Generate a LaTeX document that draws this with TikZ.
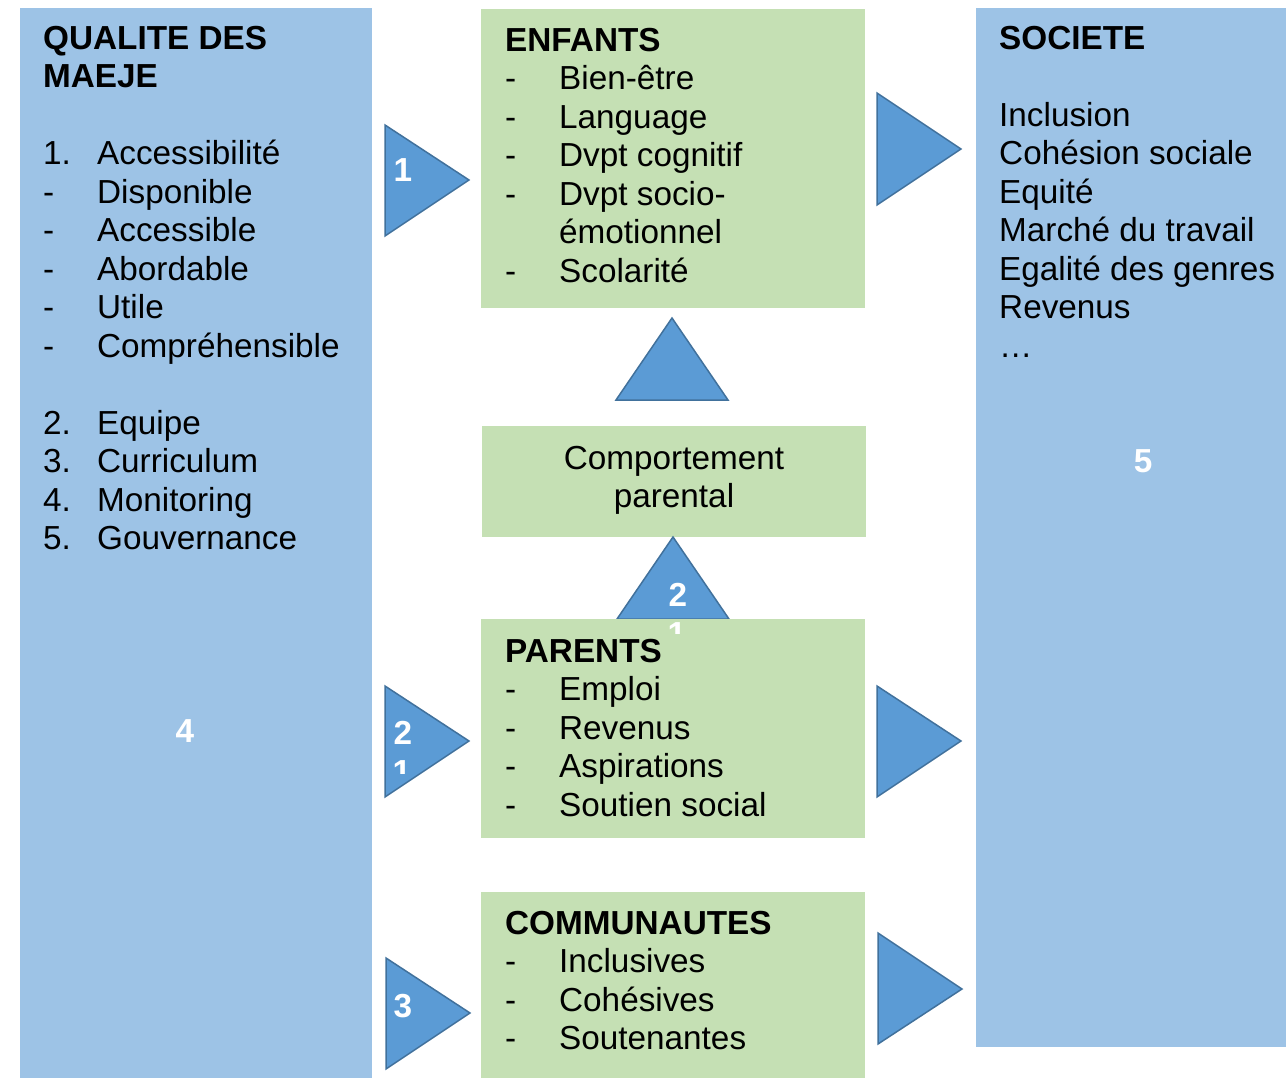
\documentclass[tikz,border=0pt]{standalone}
\usepackage{fontspec}
\setmainfont{Liberation Sans}

\definecolor{boxblue}{HTML}{9DC3E6}
\definecolor{boxgreen}{HTML}{C5E0B4}
\definecolor{triblue}{HTML}{5B9BD5}
\definecolor{triedge}{HTML}{41719C}

\newcommand{\dsh}{\makebox[54pt][l]{-}}
\newcommand{\numitem}[1]{\makebox[54pt][l]{#1}}

\tikzset{
  bluebox/.style={fill=boxblue},
  greenbox/.style={fill=boxgreen},
  arrowtri/.style={fill=triblue,draw=triedge,line width=1.5pt,line join=miter},
  boxtext/.style={anchor=north west,inner sep=0pt,align=left,font=\fontsize{33.3}{38.5}\selectfont},
  numtext/.style={text=white,inner sep=0pt,font=\fontsize{33.3}{38.5}\selectfont\bfseries}
}

\begin{document}
\begin{tikzpicture}[x=1pt,y=-1pt]
  \useasboundingbox (0,0) rectangle (1286,1078);
  % boxes
  \fill[bluebox] (20,8) rectangle (372,1078);
  \fill[bluebox] (976,8) rectangle (1286,1047);
  \fill[greenbox] (481,9) rectangle (865,308);
  \fill[greenbox] (482,426) rectangle (866,537);
  \fill[greenbox] (481,619) rectangle (865,838);
  \fill[greenbox] (481,892) rectangle (865,1078);
  % triangles
  \draw[arrowtri] (385,125) -- (469,180) -- (385,236) -- cycle;
  \draw[arrowtri] (385,686) -- (469,741) -- (385,797) -- cycle;
  \draw[arrowtri] (386,958) -- (470,1013) -- (386,1069) -- cycle;
  \draw[arrowtri] (877,93) -- (961,149) -- (877,205) -- cycle;
  \draw[arrowtri] (877,686) -- (961,741) -- (877,797) -- cycle;
  \draw[arrowtri] (878,933) -- (962,989) -- (878,1044) -- cycle;
  \draw[arrowtri] (616,400) -- (672,318) -- (728,400) -- cycle;
  \draw[arrowtri] (617,619) -- (673,537) -- (729,619) -- cycle;
  \fill[greenbox] (481,619) rectangle (865,621);

  \node[boxtext] (quality) at (43,22) {\strut\textbf{QUALITE DES}\\\textbf{MAEJE}\\[38.5pt]
    \numitem{1.}Accessibilité\\\dsh Disponible\\\dsh Accessible\\\dsh Abordable\\\dsh Utile\\\dsh Compréhensible\\[38.5pt]
    \numitem{2.}Equipe\\\numitem{3.}Curriculum\\\numitem{4.}Monitoring\\\numitem{5.}Gouvernance};
  \node[boxtext] (children) at (505,24) {\strut\textbf{ENFANTS}\\\dsh Bien-être\\\dsh Language\\\dsh Dvpt cognitif\\
    \dsh Dvpt socio-\\\makebox[54pt]{}émotionnel\\\dsh Scolarité};
  \node[boxtext,anchor=north,align=center] (behaviour) at (674,442) {\strut Comportement\\parental};
  \node[boxtext] (parents) at (505,635) {\strut\textbf{PARENTS}\\\dsh Emploi\\\dsh Revenus\\\dsh Aspirations\\\dsh Soutien social};
  \node[boxtext] (communities) at (505,907) {\strut\textbf{COMMUNAUTES}\\\dsh Inclusives\\\dsh Cohésives\\\dsh Soutenantes};
  \node[boxtext] (society) at (999,22) {\strut\textbf{SOCIETE}\\[38.5pt]Inclusion\\Cohésion sociale\\Equité\\Marché du travail\\
    Egalité des genres\\Revenus\\…};

  % numbers
  \node[numtext] (num1) at (403,170) {1};
  \node[numtext] (num2) at (403,733) {2};
  \node[numtext] (num3) at (403,1006) {3};
  \node[numtext] (num4) at (185,731) {4};
  \node[numtext] (num5) at (1143,461) {5};
  \node[numtext] (num2up) at (678,595) {2};
  \begin{scope}
    \clip (380,750) rectangle (430,773);
    \node[numtext] (num2frag) at (402,772) {1};
  \end{scope}
  \begin{scope}
    \clip (650,610) rectangle (710,633);
    \node[numtext] (num2upfrag) at (677,634) {1};
  \end{scope}
\end{tikzpicture}
\end{document}
